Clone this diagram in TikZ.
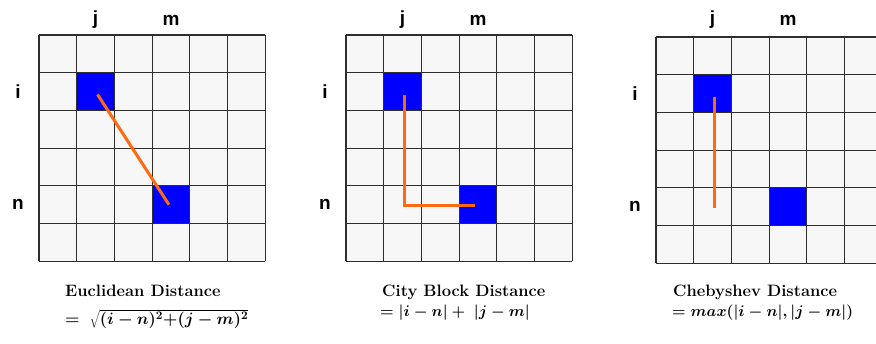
\RequirePackage{fix-cm}
\documentclass[tikz,border=0pt]{standalone}
\usepackage{fontspec}
\newfontfamily\labfont{Liberation Sans}
\definecolor{cellc}{HTML}{F7F7F7}
\definecolor{gridc}{HTML}{2E2E2E}
\definecolor{bluec}{HTML}{0000FF}
\definecolor{orangec}{HTML}{FF6A10}
\tikzset{
  gridline/.style={draw=gridc, line width=1.2pt},
  bluecell/.style={draw=gridc, fill=bluec, line width=1.2pt, minimum size=37.7pt, inner sep=0pt},
  axislab/.style={font=\labfont\bfseries\fontsize{19}{19}\selectfont, inner sep=0pt},
  titlelab/.style={font=\bfseries\fontsize{16.5}{16.5}\selectfont, inner sep=0pt, anchor=base west},
  formlab/.style={font=\fontsize{15.5}{15.5}\selectfont\boldmath, inner sep=0pt, anchor=base west},
  distline/.style={draw=orangec, line width=3pt}
}
\begin{document}
\begin{tikzpicture}[x=1pt,y=-1pt]
\useasboundingbox (0,0) rectangle (876,343);
\clip (0,0) rectangle (876,343);
\foreach \gx/\gy/\g in {39/35/A, 346/35/B, 656/37/C} {
  \fill[cellc] (\gx,\gy) rectangle ++(226.2,226.2);
  \foreach \k in {0,...,6} {
    \draw[gridline] (\gx+\k*37.7,\gy) -- ++(0,226.2);
    \draw[gridline] (\gx,\gy+\k*37.7) -- ++(226.2,0);
  }
  \node[bluecell] (\g1) at (\gx+1.5*37.7,\gy+1.5*37.7) {};
  \node[bluecell] (\g2) at (\gx+3.5*37.7,\gy+4.5*37.7) {};
  \node[axislab] (\g j) at (\gx+1.5*37.7,20) {j};
  \node[axislab] (\g m) at (\gx+3.5*37.7,20) {m};
  \node[axislab] (\g i) at (\gx-21,\gy+1.5*37.7) {i};
  \node[axislab] (\g n) at (\gx-21,\gy+4.5*37.7) {n};
}
\draw[distline] ([shift={(2,3)}]A1.center) -- ([shift={(-2,0)}]A2.center);
\draw[distline] ([shift={(2,3)}]B1.center) |- ([shift={(-3,1)}]B2.center);
\draw[distline] ([shift={(2,3)}]C1.center) -- ([shift={(2,1)}]C1.center |- C2.center);
\node[titlelab] (t1) at (65,296) {Euclidean Distance};
\node[formlab, font=\fontsize{16.5}{16.5}\selectfont\boldmath] (f1) at (65,324) {$=\ \sqrt{\vphantom{\Big(}(i-n)^2{+}(j-m)^2}$};
\node[titlelab] (t2) at (382,296) {City Block Distance};
\node[formlab] (f2) at (380,316) {$=|i-n|+\ |j-m|$};
\node[titlelab] (t3) at (673,296) {Chebyshev Distance};
\node[formlab] (f3) at (672,316) {$=max(|i-n|,|j-m|)$};
\end{tikzpicture}
\end{document}
